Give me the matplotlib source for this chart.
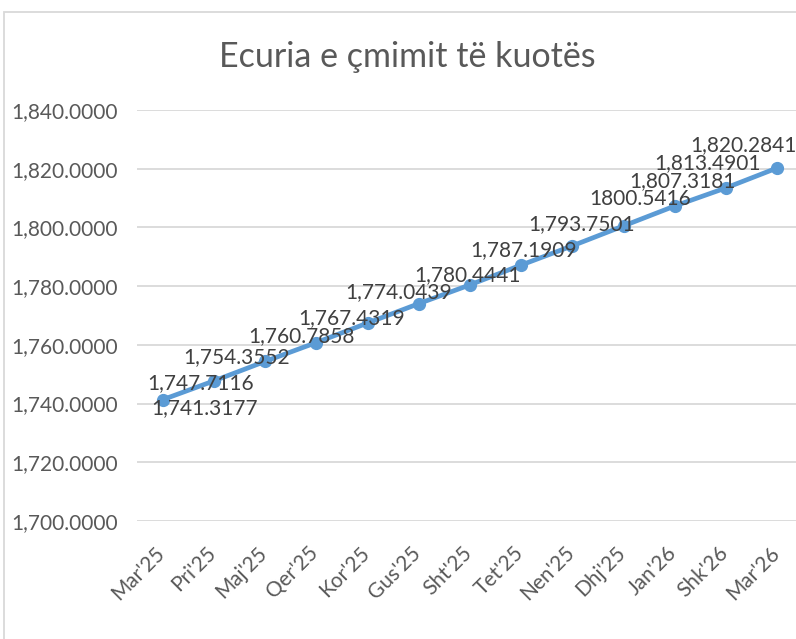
import matplotlib
matplotlib.use("Agg")
import matplotlib.pyplot as plt
import matplotlib.transforms as mtransforms
from matplotlib.patches import Rectangle
from matplotlib.ticker import FuncFormatter

plt.rcParams['font.family'] = ['Lato', 'DejaVu Sans']

# te dhenat
months = ["Mar'25", "Pri'25", "Maj'25", "Qer'25", "Kor'25", "Gus'25", "Sht'25",
          "Tet'25", "Nen'25", "Dhj'25", "Jan'26", "Shk'26", "Mar'26"]
prices = [1741.3177, 1747.7116, 1754.3552, 1760.7858, 1767.4319, 1774.0439,
          1780.4441, 1787.1909, 1793.7501, 1800.5416, 1807.3181, 1813.4901,
          1820.2841]
price_labels = ["1,741.3177", "1,747.7116", "1,754.3552", "1,760.7858",
                "1,767.4319", "1,774.0439", "1,780.4441", "1,787.1909",
                "1,793.7501", "1800.5416", "1,807.3181", "1,813.4901",
                "1,820.2841"]
# zhvendosja e etiketave (piksel)
label_offsets = [(42, -8), (-13, -2), (-28, 4), (-15, 6), (-16, 5), (-20, 12),
                 (-2, 10), (2, 15), (9, 22), (16, 27), (8, 25), (-19, 25),
                 (-34, 23)]

fig = plt.figure(figsize=(7.96, 6.39), dpi=100)
fig.patches.append(Rectangle((4 / 796, -0.1), 1.2, (639 - 12) / 639 + 0.1,
                             transform=fig.transFigure, fill=False,
                             edgecolor='#D9D9D9', linewidth=1.3))

ax = fig.add_axes([137 / 796, (639 - 521) / 639, 666 / 796, 411 / 639])
ax.set_xlim(-0.5, len(months) - 0.5)
ax.set_ylim(1700, 1840)
ax.set_yticks(range(1700, 1841, 20))
ax.yaxis.set_major_formatter(FuncFormatter(lambda v, p: '{:,.4f}'.format(v)))
ax.grid(axis='y', color='#D9D9D9', linewidth=1.3)
ax.set_axisbelow(True)
for s in ax.spines.values():
    s.set_visible(False)
ax.tick_params(length=0, labelsize=15, labelcolor='#595959')
ax.tick_params(axis='y', pad=13.5)
ax.set_xticks(range(len(months)))
ax.set_xticklabels(months, rotation=45, ha='right', rotation_mode='anchor')
ax.tick_params(axis='x', pad=12)
shift = mtransforms.ScaledTranslation(-8 / 100, -5 / 100, fig.dpi_scale_trans)
for lbl in ax.get_xticklabels():
    lbl.set_transform(lbl.get_transform() + shift)

x = list(range(len(months)))
ax.plot(x, prices, color='#5B9BD5', linewidth=3.4, marker='o',
        markersize=8.5, clip_on=False, zorder=3)

for i in x:
    ax.annotate(price_labels[i], (i, prices[i]), xytext=label_offsets[i],
                textcoords='offset pixels', ha='center', va='center',
                fontsize=15, color='#404040', zorder=4)

fig.text(407 / 796, 1 - 57 / 639, 'Ecuria e çmimit të kuotës', ha='center',
         va='center', fontsize=24.5, color='#595959')

fig.savefig('out.png', dpi=100)
